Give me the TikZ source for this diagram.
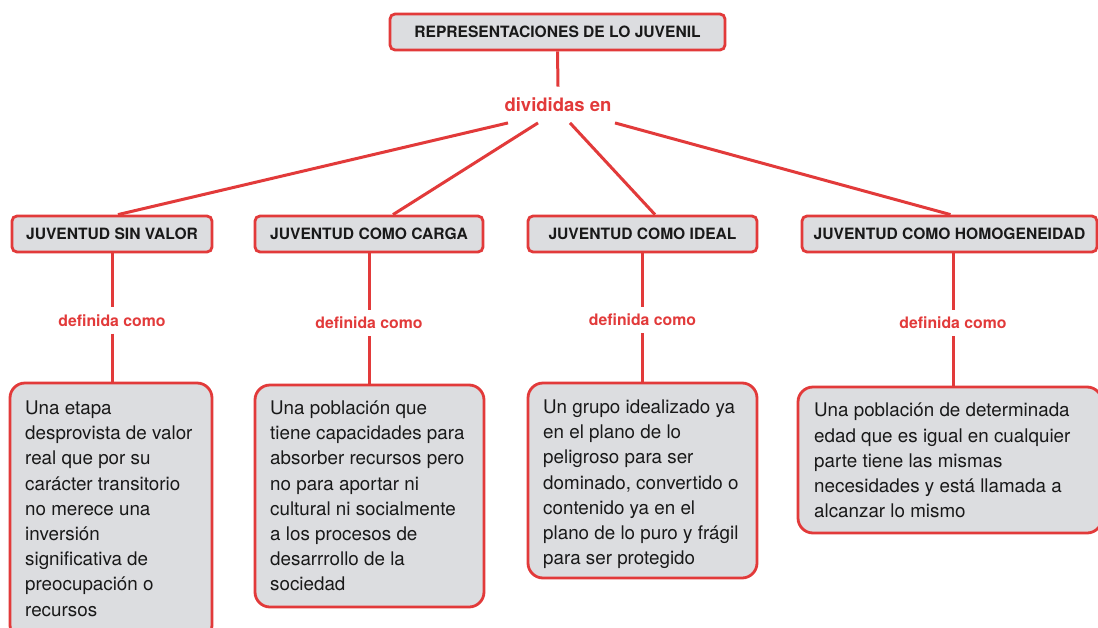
\documentclass[tikz,border=0pt]{standalone}
\usepackage{fontspec}
\setmainfont{TeX Gyre Heros}
\usetikzlibrary{calc}
\definecolor{cmred}{RGB}{226,58,58}
\definecolor{cmgrey}{RGB}{220,221,224}
\definecolor{cmtext}{RGB}{25,25,25}
\begin{document}
\begin{tikzpicture}[x=1pt,y=-1pt,
  conn/.style={draw=cmred,line width=3pt},
  headbox/.style={draw=cmred,fill=cmgrey,line width=2.8pt,rounded corners=5pt,
    font=\fontsize{15.6}{18}\selectfont\bfseries,text=cmtext,inner sep=0pt},
  textbox/.style={draw=cmred,fill=cmgrey,line width=2.8pt,rounded corners=15pt,inner sep=0pt},
  bodytext/.style={font=\fontsize{18.8}{25.2}\selectfont,text=cmtext,align=left,inner sep=0pt,anchor=north west},
  linklabel/.style={font=\fontsize{15.8}{18}\selectfont\bfseries,text=cmred,inner sep=7pt},
]
\clip (0,0) rectangle (1098,627);
\fill[white] (0,0) rectangle (1098,627);

% title
\node[headbox,minimum width=335pt,minimum height=36pt] (top) at (557.5,32) {REPRESENTACIONES DE LO JUVENIL};
\node[font=\fontsize{18.5}{20}\selectfont\bfseries,text=cmred,inner xsep=0pt,inner ysep=11pt] (dv) at (558,104.75) {divididas en};
\draw[conn] (top.south) -- (dv.north);

% level 2
\node[headbox,minimum width=200pt,minimum height=36pt] (B1) at (112,234) {JUVENTUD SIN VALOR};
\node[headbox,minimum width=228pt,minimum height=36pt] (B2) at (369,234) {JUVENTUD COMO CARGA};
\node[headbox,minimum width=229pt,minimum height=36pt] (B3) at (642.5,234) {JUVENTUD COMO IDEAL};
\node[headbox,minimum width=295pt,minimum height=36pt] (B4) at (949.5,234) {JUVENTUD COMO HOMOGENEIDAD};

\coordinate (s1) at ($(dv.south)+(-50,0)$);
\coordinate (s2) at ($(dv.south)+(-20,0)$);
\coordinate (s3) at ($(dv.south)+(12,0)$);
\coordinate (s4) at ($(dv.south)+(57,0)$);
\coordinate (e1) at ($(B1.north)+(6,0)$);
\coordinate (e2) at ($(B2.north)+(24,0)$);
\coordinate (e3) at ($(B3.north)+(12.5,0)$);
\coordinate (e4) at ($(B4.north)+(1,0)$);
\draw[conn] (s1) -- (e1);
\draw[conn] (s2) -- (e2);
\draw[conn] (s3) -- (e3);
\draw[conn] (s4) -- (e4);

% labels
\node[linklabel] (L1) at (112,320.5) {definida como};
\node[linklabel] (L2) at (369,323) {definida como};
\node[linklabel] (L3) at (642.5,320) {definida como};
\node[linklabel] (L4) at (953,323) {definida como};

% bottom boxes
\node[textbox,minimum width=202pt,minimum height=257pt] (D1) at (111,511.5) {};
\node[textbox,minimum width=229pt,minimum height=222pt] (D2) at (369.5,496) {};
\node[textbox,minimum width=229pt,minimum height=195pt] (D3) at (642.5,480.5) {};
\node[textbox,minimum width=304pt,minimum height=146pt] (D4) at (950,460) {};

\draw[conn] (B1.south -| L1) -- (L1.north);
\draw[conn] (L1.south) -- (D1.north -| L1);
\draw[conn] (B2.south -| L2) -- (L2.north);
\draw[conn] (L2.south) -- (D2.north -| L2);
\draw[conn] (B3.south -| L3) -- (L3.north);
\draw[conn] (L3.south) -- (D3.north -| L3);
\draw[conn] (B4.south -| L4) -- (L4.north);
\draw[conn] (L4.south) -- (D4.north -| L4);

% texts
\node[bodytext] (T1) at (25,400.5) {Una etapa\\desprovista de valor\\real que por su\\carácter transitorio\\no merece una\\inversión\\significativa de\\preocupación o\\recursos};
\node[bodytext] (T2) at (270,400.5) {Una población que\\tiene capacidades para\\absorber recursos pero\\no para aportar ni\\cultural ni socialmente\\a los procesos de\\desarrrollo de la\\sociedad};
\node[bodytext] (T3) at (543,399.5) {Un grupo idealizado ya\\en el plano de lo\\peligroso para ser\\dominado, convertido o\\contenido ya en el\\plano de lo puro y frágil\\para ser protegido};
\node[bodytext] (T4) at (814,403) {Una población de determinada\\edad que es igual en cualquier\\parte tiene las mismas\\necesidades y está llamada a\\alcanzar lo mismo};
\end{tikzpicture}
\end{document}
